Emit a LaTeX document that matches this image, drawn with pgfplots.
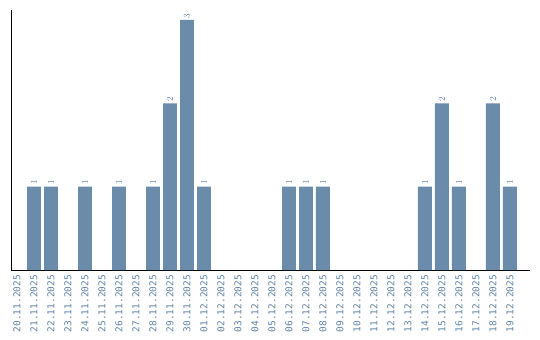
\documentclass[border=0pt]{standalone}
\usepackage{fontspec}
\setmonofont{DejaVu Sans Mono}
\usepackage{pgfplots}
\pgfplotsset{compat=1.18}
\definecolor{barc}{RGB}{106,139,170}
\definecolor{labc}{RGB}{96,130,166}
\begin{document}
\begin{tikzpicture}[x=1bp,y=1bp]
\begin{axis}[
  scale only axis,
  width=519bp, height=260bp,
  at={(0,0)}, anchor=south west,
  xmin=-0.353, xmax=30.18,
  ymin=0, ymax=3.12,
  axis x line*=bottom, axis y line*=left,
  axis line style={black, line width=1bp, -},
  ytick=\empty,
  xtick={0,...,29},
  major tick length=0pt,
  xticklabel shift=5bp,
  xticklabels={20.11.2025,21.11.2025,22.11.2025,23.11.2025,24.11.2025,25.11.2025,26.11.2025,27.11.2025,28.11.2025,29.11.2025,30.11.2025,01.12.2025,02.12.2025,03.12.2025,04.12.2025,05.12.2025,06.12.2025,07.12.2025,08.12.2025,09.12.2025,10.12.2025,11.12.2025,12.12.2025,13.12.2025,14.12.2025,15.12.2025,16.12.2025,17.12.2025,18.12.2025,19.12.2025},
  xticklabel style={rotate=90, anchor=east, font=\fontsize{9.5}{10}\ttfamily, text=labc, inner sep=0pt},
  nodes near coords,
  nodes near coords style={rotate=90, anchor=west, font=\fontsize{9}{9}\ttfamily, text=labc, inner sep=1.5bp},
  clip=false,
]
\addplot[ybar, bar width=0.82, bar shift=0pt, fill=barc, draw=none] coordinates {
(1,1) (2,1) (4,1) (6,1) (8,1) (9,2) (10,3) (11,1)
(16,1) (17,1) (18,1) (24,1) (25,2) (26,1) (28,2) (29,1)
};
\end{axis}
\pgfresetboundingbox
\path (-11bp,-70bp) rectangle (529bp,270bp);
\end{tikzpicture}
\end{document}
